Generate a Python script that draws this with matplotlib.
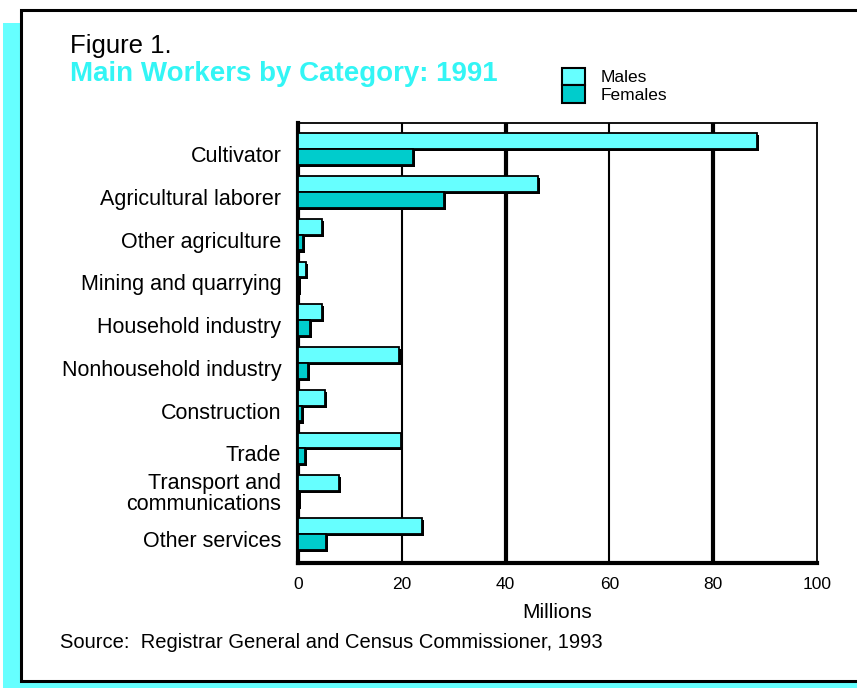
import matplotlib
matplotlib.use("Agg")
import matplotlib.pyplot as plt
import matplotlib.patheffects as pe
import matplotlib.transforms as mtransforms
from matplotlib.patches import Rectangle, Patch
import numpy as np

plt.rcParams['font.family'] = ['Liberation Sans', 'DejaVu Sans']

categories = ["Cultivator", "Agricultural laborer", "Other agriculture",
              "Mining and quarrying", "Household industry",
              "Nonhousehold industry", "Construction", "Trade",
              "Transport and\ncommunications", "Other services"]
males = [88.4, 46.2, 4.7, 1.5, 4.6, 19.5, 5.2, 19.8, 7.9, 23.9]
females = [22.2, 28.2, 1.0, 0.1, 2.3, 2.0, 0.7, 1.4, 0.2, 5.3]
xticks = [0, 20, 40, 60, 80, 100]

male_col = "#66FFFF"
female_col = "#00CCCC"

W, H = 857, 688
fig = plt.figure(figsize=(W / 100, H / 100), dpi=100)

def px(x0, y0, w, h):
    # pixel box (top-left origin) -> figure fraction rectangle
    return (x0 / W, 1 - (y0 + h) / H), w / W, h / H

# cyan drop shadow and the black framed panel
for x0, y0, w, h in [(3, 23, 18, 665), (3, 681, 854, 7)]:
    xy, w_, h_ = px(x0, y0, w, h)
    fig.patches.append(Rectangle(xy, w_, h_, transform=fig.transFigure,
                                 facecolor=male_col, edgecolor="none", zorder=0))
xy, w_, h_ = px(21, 10, 860, 671)
fig.patches.append(Rectangle(xy, w_, h_, transform=fig.transFigure,
                             facecolor="white", edgecolor="black", lw=2.2, zorder=1))

ax = fig.add_axes([298 / W, 1 - 563 / H, (817 - 298) / W, (563 - 123) / H])
ax.set_zorder(2)

y = np.arange(len(categories))
bh = 0.37
shadow = [pe.SimplePatchShadow(offset=(1.5, -1.5), shadow_rgbFace="black", alpha=1), pe.Normal()]
ax.barh(y - bh / 2, males, height=bh, color=male_col, edgecolor="black",
        lw=1.3, zorder=3, path_effects=shadow)
ax.barh(y + bh / 2, females, height=bh, color=female_col, edgecolor="black",
        lw=1.3, zorder=3, path_effects=shadow)

for i, t in enumerate(xticks[1:-1]):
    ax.axvline(t, color="black", lw=3 if i % 2 else 1.5, zorder=1)

ax.set_xlim(0, 100)
ax.set_ylim(9.68, -0.61)
ax.set_xticks(xticks)
ax.set_xticklabels([str(t) for t in xticks], fontsize=12.5)
ax.set_yticks(y)
ax.set_yticklabels(categories, fontsize=15.5, linespacing=1.0)
ax.tick_params(axis="both", length=0)
ax.tick_params(axis="x", pad=10)
ax.tick_params(axis="y", pad=12)
# single-line labels sit a little below the bar pair
off = mtransforms.ScaledTranslation(0, -5 / 100, fig.dpi_scale_trans)
for lbl in ax.get_yticklabels():
    if "\n" not in lbl.get_text():
        lbl.set_transform(lbl.get_transform() + off)

ax.set_xlabel("Millions", fontsize=15, labelpad=8)

for s in ["left", "bottom"]:
    ax.spines[s].set_linewidth(3)
for s in ["top", "right"]:
    ax.spines[s].set_linewidth(1.3)

fig.text(70 / W, 1 - 46 / H, "Figure 1.", fontsize=18.5, va="center", ha="left", zorder=3)
fig.text(70 / W, 1 - 74 / H, "Main Workers by Category: 1991", fontsize=20,
         fontweight="bold", color="#33F5F5", va="center", ha="left", zorder=3)
fig.text(60 / W, 1 - 643 / H, "Source:  Registrar General and Census Commissioner, 1993",
         fontsize=14.5, va="center", ha="left", zorder=3)

handles = [Patch(facecolor=male_col, edgecolor="black", lw=1.5),
           Patch(facecolor=female_col, edgecolor="black", lw=1.5)]
leg = fig.legend(handles, ["Males", "Females"], loc="upper left",
                 bbox_to_anchor=(562 / W, 1 - 68 / H), frameon=False,
                 fontsize=12.5, handlelength=1.35, handleheight=1.15,
                 labelspacing=0.0, handletextpad=0.9, borderpad=0, borderaxespad=0)
leg.set_zorder(3)

fig.savefig("out.png", dpi=100)
